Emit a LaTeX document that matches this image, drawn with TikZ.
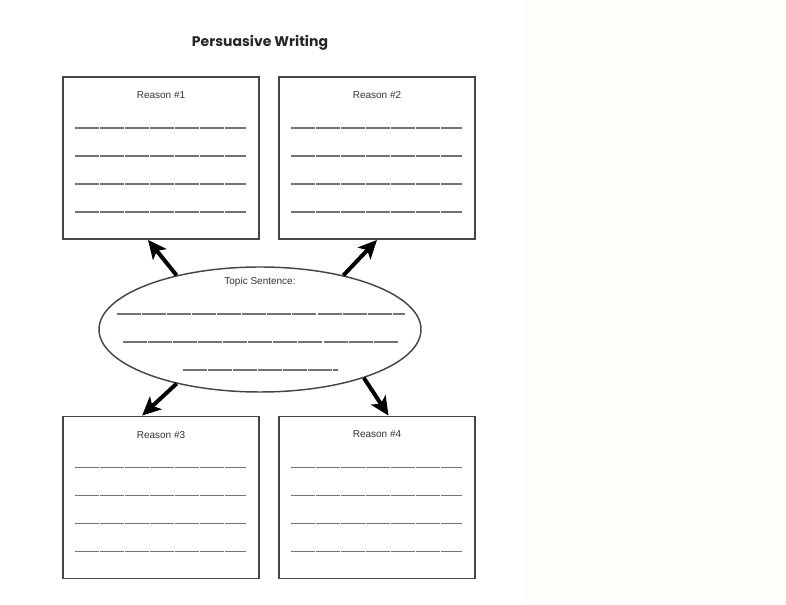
\documentclass[tikz,border=0pt]{standalone}
\usepackage{fontspec}
\setmainfont{Liberation Sans}
\newfontfamily\titlefont{Poppins}
\usetikzlibrary{arrows.meta,calc,shapes.geometric}
\definecolor{cream}{RGB}{253,254,249}
\definecolor{boxline}{RGB}{70,70,70}
\begin{document}
\begin{tikzpicture}[x=0.75pt,y=-0.75pt,
  reasonbox/.style={draw=boxline,line width=1.4pt,minimum width=147pt,minimum height=121.5pt,inner sep=0pt},
  topicoval/.style={ellipse,draw=boxline,line width=1.1pt,minimum width=241.5pt,minimum height=93.75pt,inner sep=0pt},
  lbl/.style={font=\fontsize{7.5}{9}\selectfont,text=black!80},
  writeline/.style={black!55,line width=1.4pt,dash pattern=on 18pt off 0.8pt},
  bigarrow/.style={line width=3pt,-{Stealth[length=14pt,width=13pt,inset=3.5pt]}}]
\useasboundingbox (0,0) rectangle (786,605);
\fill[cream] (525,0) rectangle (786,605);
\node[font=\titlefont\bfseries\fontsize{10.5}{12}\selectfont,text=black!85] (title) at (260,43) {Persuasive Writing};
\node[reasonbox] (r1) at (161,158) {};
\node[reasonbox] (r2) at (377,158) {};
\node[reasonbox] (r3) at (161,497.5) {};
\node[reasonbox] (r4) at (377,497.5) {};
\node[topicoval] (topic) at (260,329.5) {};
\foreach \b/\n in {r1/1,r2/2,r3/3,r4/4}{
  \node[lbl] (\b lbl) at ($(\b.north)+(0,19)$) {Reason \#\n};
  \foreach \y in {52,80,108,136}
    \draw[writeline] ($(\b.north west)+(13,\y)$) -- ($(\b.north east)+(-14,\y)$);
}
\node[lbl] (topiclbl) at ($(topic.north)+(0,16)$) {Topic Sentence:};
\draw[writeline] ($(topic.center)+(-143,-15.5)$) -- ($(topic.center)+(145,-15.5)$);
\draw[writeline] ($(topic.center)+(-137,12.5)$) -- ($(topic.center)+(138,12.5)$);
\draw[writeline] ($(topic.center)+(-77,40.5)$) -- ($(topic.center)+(78,40.5)$);
% arrows out of the topic oval
\draw[bigarrow] (topic.147) -- (r1.261);
\draw[bigarrow] (topic.33) -- (r2.south);
\draw[bigarrow] (topic.213) -- (r3.103);
\draw[bigarrow] (topic.-25) -- (r4.82);
\end{tikzpicture}
\end{document}
